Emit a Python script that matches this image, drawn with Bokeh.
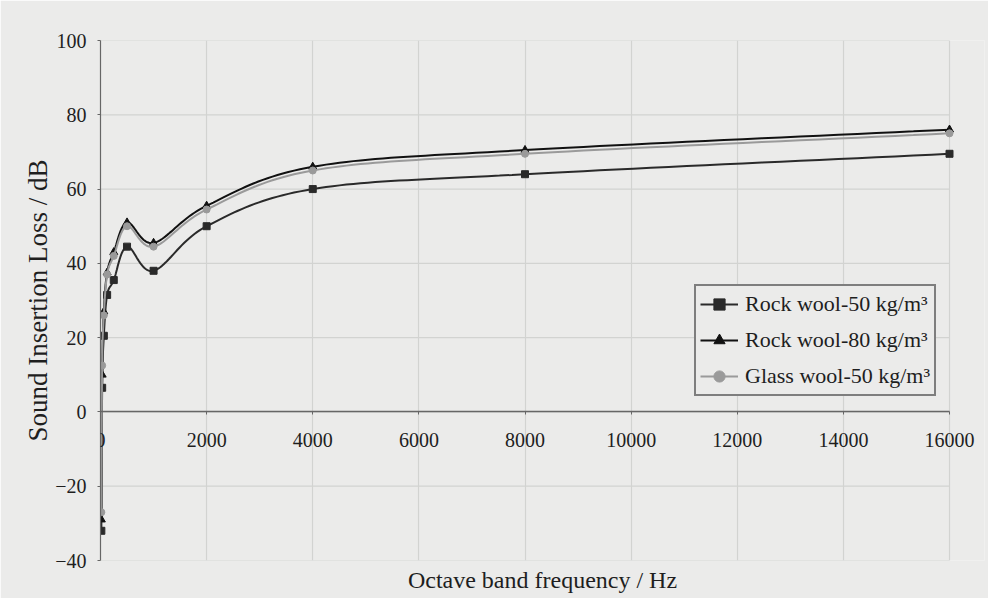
import numpy as np
from bokeh.plotting import figure
from bokeh.models import (Range1d, FixedTicker, Legend, LegendItem, Title,
                          LabelSet, ColumnDataSource)
from bokeh.embed import file_html
from bokeh.resources import INLINE

# ---- data ----
freq = [16, 31.5, 63, 125, 250, 500, 1000, 2000, 4000, 8000, 16000]
rock50 = [-32, 6.5, 20.5, 31.5, 35.5, 44.5, 38, 50, 60, 64, 69.5]
rock80 = [-29, 10, 27, 37.5, 43, 51, 45.5, 55.5, 66, 70.5, 76]
glass50 = [-27, 12.5, 26, 37, 42, 50, 44.5, 54.5, 65, 69.5, 75]
labels = ["Rock wool-50 kg/m³", "Rock wool-80 kg/m³", "Glass wool-50 kg/m³"]
x_ticks = [0, 2000, 4000, 6000, 8000, 10000, 12000, 14000, 16000]
x_tick_labels = ["0", "2000", "4000", "6000", "8000", "10000", "12000", "14000", "16000"]
y_ticks = [-40, -20, 0, 20, 40, 60, 80, 100]

FONT = "Liberation Serif"
BG = "#ebebea"
TXT = "#1e1e1e"
GRID = "#d2d3d1"

X_MAX = x_ticks[-1]
PX_PER_X = 849.0 / X_MAX          # horizontal pixels per Hz inside the plot
x_end = X_MAX * 884.0 / 849.0     # leave room on the right for the last tick label

p = figure(width=988, height=598, output_backend="svg", toolbar_location=None,
           x_range=Range1d(0, x_end), y_range=Range1d(-40, 100),
           min_border_left=100, min_border_right=4, min_border_top=40,
           min_border_bottom=38)
p.background_fill_color = BG
p.border_fill_color = BG
p.outline_line_color = None

# y axis (frame left is x = 0)
ya = p.yaxis[0]
ya.ticker = FixedTicker(ticks=y_ticks)
ya.axis_line_color = "#666666"
ya.axis_line_width = 1.2
ya.major_tick_line_color = "#666666"
ya.major_tick_in = 0
ya.major_tick_out = 3
ya.minor_tick_line_color = None
ya.major_label_text_font = FONT
ya.major_label_text_font_size = "20px"
ya.major_label_text_color = TXT
ya.major_label_standoff = 11

# x axis crossing at y = 0 (labels drawn separately)
xa = p.xaxis[0]
xa.fixed_location = 0
xa.bounds = (0, X_MAX)
xa.ticker = FixedTicker(ticks=x_ticks)
xa.axis_line_color = "#666666"
xa.axis_line_width = 1.4
xa.major_tick_line_color = "#666666"
xa.major_tick_in = 0
xa.major_tick_out = 3
xa.minor_tick_line_color = None
xa.major_label_text_alpha = 0
xa.major_label_text_font_size = "1px"

p.xgrid[0].ticker = FixedTicker(ticks=x_ticks)
p.xgrid[0].grid_line_color = GRID
p.xgrid[0].grid_line_width = 1.2
p.ygrid[0].visible = False
# horizontal grid lines limited to the data extent
p.segment(x0=[0] * len(y_ticks), x1=[X_MAX] * len(y_ticks), y0=y_ticks, y1=y_ticks,
          line_color=GRID, line_width=1.2)

tick_src = ColumnDataSource(dict(x=x_ticks, y=[0] * len(x_ticks), t=x_tick_labels))
p.add_layout(LabelSet(x="x", y="y", text="t", source=tick_src, y_offset=-28,
                      text_align="center", text_baseline="middle", text_font=FONT,
                      text_font_size="20px", text_color=TXT))

p.add_layout(Title(text="Octave band frequency / Hz", align="center", text_font=FONT,
                   text_font_size="24px", text_font_style="normal",
                   text_color=TXT, standoff=9), "below")
p.add_layout(Title(text="Sound Insertion Loss / dB", align="center", text_font=FONT,
                   text_font_size="27px", text_font_style="normal",
                   text_color=TXT, standoff=0), "left")

# smooth curve through the points (Catmull-Rom in screen-normalised space)
sx, sy = 1.0 / PX_PER_X, 140 / 520.0


def smooth(xs, ys, n=24):
    P = np.column_stack([np.array(xs) / sx, np.array(ys) / sy])
    P = np.vstack([P[0] * 2 - P[1], P, P[-1] * 2 - P[-2]])
    out = []
    for i in range(1, len(P) - 2):
        p0, p1, p2, p3 = P[i - 1], P[i], P[i + 1], P[i + 2]
        t = np.linspace(0, 1, n, endpoint=False)[:, None]
        seg = 0.5 * ((2 * p1) + (-p0 + p2) * t + (2 * p0 - 5 * p1 + 4 * p2 - p3) * t ** 2
                     + (-p0 + 3 * p1 - 3 * p2 + p3) * t ** 3)
        out.append(seg)
    out.append(P[-2][None, :])
    A = np.vstack(out)
    return A[:, 0] * sx, A[:, 1] * sy


series = [
    (rock50, "#2a2a2a", "square", 7),
    (rock80, "#111111", "triangle", 8),
    (glass50, "#9a9a9a", "circle", 7),
]
items = []
for (vals, col, mk, sz), lab in zip(series, labels):
    cx, cy = smooth(freq, vals)
    r1 = p.line(cx, cy, line_color=col, line_width=2)
    r2 = p.scatter(freq, vals, marker=mk, size=sz, fill_color=col, line_color=col)
    items.append(LegendItem(label=lab, renderers=[r1, r2]))

legend = Legend(items=items, location=(594, 164), border_line_color="#111111",
                border_line_width=2, background_fill_color=BG, background_fill_alpha=1,
                label_text_font=FONT, label_text_font_size="22px",
                label_text_color=TXT, glyph_width=38, spacing=8,
                padding=4, margin=0, label_standoff=7, label_height=28,
                glyph_height=28)
p.add_layout(legend, "center")

open("out.html", "w").write(file_html(p, INLINE))
